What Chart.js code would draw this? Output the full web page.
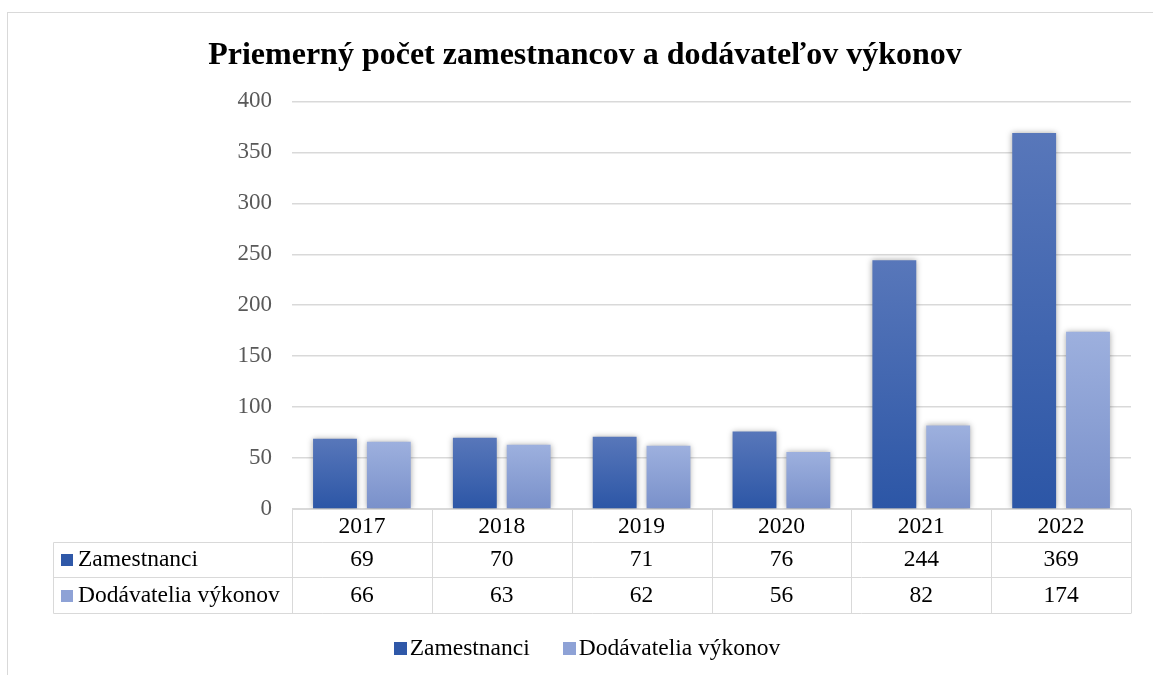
<!DOCTYPE html>
<html>
<head>
<meta charset="utf-8">
<script src="https://cdn.jsdelivr.net/npm/chart.js@4.4.0/dist/chart.umd.min.js"></script>
<style>
  html, body { margin: 0; padding: 0; background: #fff; }
  #wrap { width: 1153px; height: 675px; }
</style>
</head>
<body>
<div id="wrap"><canvas id="avgChart"></canvas></div>
<script>
const years = ['2017', '2018', '2019', '2020', '2021', '2022'];
const zamestnanci = [69, 70, 71, 76, 244, 369];
const dodavatelia = [66, 63, 62, 56, 82, 174];
const yTicks = [0, 50, 100, 150, 200, 250, 300, 350, 400];

const serif = '"Liberation Serif", "Times New Roman", serif';
const gridColor = '#d9d9d9';
const swatch = ['#2f58a8', '#8ea2d6'];

// per-bar vertical gradient, light at top, darker at the bottom
function barGradient(top, bottom, solid) {
    return function(c) {
        if (c.type !== 'data') return solid;
        const chart = c.chart;
        const y = chart.scales.y;
        if (!y) return solid;
        const y1 = y.getPixelForValue(c.raw);
        const y0 = y.getPixelForValue(0);
        if (!isFinite(y1) || !isFinite(y0) || y1 === y0) return solid;
        const g = chart.ctx.createLinearGradient(0, y1, 0, y0);
        g.addColorStop(0, top);
        g.addColorStop(1, bottom);
        return g;
    };
}

// outer frame, bar shadows, the data table under the axis and the legend
const tablePlugin = {
    id: 'tablePlugin',
    beforeDraw(chart) {
        const ctx = chart.ctx;
        ctx.save();
        ctx.strokeStyle = gridColor;
        ctx.lineWidth = 1;
        ctx.strokeRect(7.5, 12.5, 1160, 700);
        ctx.restore();
    },
    beforeDatasetsDraw(chart) {
        const ctx = chart.ctx;
        ctx.save();
        ctx.shadowColor = 'rgba(0,0,0,0.35)';
        ctx.shadowBlur = 6;
    },
    afterDatasetsDraw(chart) {
        chart.ctx.restore();
    },
    afterDraw(chart) {
        const ctx = chart.ctx;
        const area = chart.chartArea;
        const x = chart.scales.x;
        const rowEdges = [0, 32.5, 67, 103];
        const labelLeft = 53.5;
        const top = Math.round(area.bottom) + 0.5;
        const step = (area.right - area.left) / years.length;
        const bottom = top + rowEdges[3];

        ctx.save();
        ctx.strokeStyle = gridColor;
        ctx.lineWidth = 1;
        ctx.beginPath();
        ctx.moveTo(area.left, top);
        ctx.lineTo(area.right, top);
        for (let r = 1; r <= 3; r++) {
            const yy = Math.round(top + rowEdges[r]) + 0.5;
            ctx.moveTo(labelLeft, yy);
            ctx.lineTo(area.right, yy);
        }
        ctx.moveTo(labelLeft, Math.round(top + rowEdges[1]) + 0.5);
        ctx.lineTo(labelLeft, Math.round(bottom) + 0.5);
        for (let i = 0; i <= years.length; i++) {
            const xx = Math.round(area.left + step * i) + 0.5;
            ctx.moveTo(xx, top);
            ctx.lineTo(xx, Math.round(bottom) + 0.5);
        }
        ctx.stroke();

        ctx.font = '23.5px ' + serif;
        ctx.fillStyle = '#000';
        ctx.textAlign = 'center';
        ctx.textBaseline = 'middle';
        const rows = [years, zamestnanci, dodavatelia];
        rows.forEach(function(row, r) {
            const cy = top + (rowEdges[r] + rowEdges[r + 1]) / 2 + 1;
            row.forEach(function(v, i) {
                ctx.fillText(String(v), x.getPixelForValue(i), cy);
            });
        });

        const names = chart.data.datasets.map(d => d.label);
        ctx.textAlign = 'left';
        names.forEach(function(n, k) {
            const cy = top + (rowEdges[k + 1] + rowEdges[k + 2]) / 2 + 1;
            ctx.fillStyle = swatch[k];
            ctx.fillRect(61, Math.round(cy - 6), 12, 12);
            ctx.fillStyle = '#000';
            ctx.fillText(n, 78, cy);
        });

        // legend below the table
        const ly = 649;
        const widths = names.map(n => ctx.measureText(n).width);
        const itemW = widths.map(w => 13 + 3 + w);
        const gap = 33;
        let lx = 587 - (itemW[0] + gap + itemW[1]) / 2;
        names.forEach(function(n, k) {
            ctx.fillStyle = swatch[k];
            ctx.fillRect(Math.round(lx), ly - 7, 13, 13);
            ctx.fillStyle = '#000';
            ctx.fillText(n, lx + 16, ly);
            lx += itemW[k] + gap;
        });
        ctx.restore();
    }
};

const ctx = document.getElementById('avgChart').getContext('2d');

const avgChart = new Chart(ctx, {
    type: 'bar',
    data: {
        labels: years,
        datasets: [
            {
                label: 'Zamestnanci',
                data: zamestnanci,
                backgroundColor: barGradient('#5877ba', '#2c56a6', swatch[0]),
                categoryPercentage: 0.77,
                barPercentage: 0.815
            },
            {
                label: 'Dodávatelia výkonov',
                data: dodavatelia,
                backgroundColor: barGradient('#9db0de', '#7990ca', swatch[1]),
                categoryPercentage: 0.77,
                barPercentage: 0.815
            }
        ]
    },
    options: {
        responsive: true,
        maintainAspectRatio: false,
        animation: false,
        layout: {
            padding: { left: 39, right: 22, top: 0, bottom: 49 }
        },
        plugins: {
            title: {
                display: true,
                text: 'Priemerný počet zamestnancov a dodávateľov výkonov',
                color: '#000',
                font: { family: serif, size: 32, weight: 'bold' },
                padding: { top: 37, bottom: 26 }
            },
            legend: { display: false },
            tooltip: { enabled: false }
        },
        scales: {
            x: {
                grid: { display: false, drawTicks: false },
                border: { display: false },
                ticks: { display: false },
                afterFit(scale) { scale.height = 117; }
            },
            y: {
                min: 0,
                max: 400,
                afterBuildTicks(scale) {
                    scale.ticks = yTicks.map(v => ({ value: v }));
                },
                grid: { color: gridColor, lineWidth: 1.5, drawTicks: false },
                border: { display: false },
                ticks: {
                    color: '#595959',
                    font: { family: serif, size: 23 },
                    padding: 20
                },
                afterFit(scale) { scale.width = 253; }
            }
        }
    },
    plugins: [tablePlugin]
});
</script>
</body>
</html>
